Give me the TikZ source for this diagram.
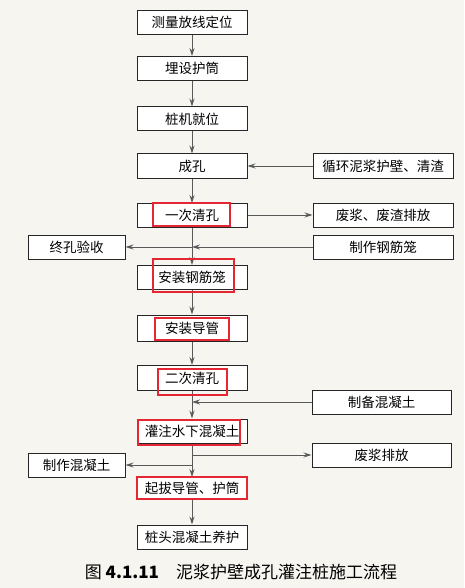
\documentclass[tikz,border=0pt]{standalone}
\usepackage{fontspec}
\setmainfont{Noto Sans CJK SC}
\usepackage{tikz}
\usetikzlibrary{arrows.meta}
\usetikzlibrary{positioning}
\definecolor{paper}{rgb}{0.97, 0.96, 0.94}
\definecolor{mred}{rgb}{0.90, 0.15, 0.20}
\definecolor{lgray}{rgb}{0.35, 0.35, 0.35}
\tikzset{stepbox/.style = {draw = black!85, line width = 1pt, fill = white, inner sep = 0,
    minimum height = 24, font = \fontsize{13.5}{15}\selectfont}}
\tikzset{mainbox/.style = {stepbox, minimum width = 110}}
\tikzset{sidebox/.style = {stepbox, minimum width = 140}}
\tikzset{leftbox/.style = {stepbox, minimum width = 97}}
\tikzset{flow/.style = {draw = lgray, line width = 0.8pt, -{Stealth[length = 8, width = 5]}}}
\tikzset{redbox/.style = {draw = mred, line width = 1.8pt}}

\begin{document}
\begin{tikzpicture}[x = 1pt, y = -1pt]
    \fill [paper] (0, 0) rectangle (464, 588);
    \useasboundingbox (0, 0) rectangle (464, 588);

    % main column
    \node [mainbox] (celiang) at (192, 22.5) {测量放线定位};
    \node [mainbox] (hutong) at (192, 68.5) {埋设护筒};
    \node [mainbox] (zhuangji) at (192, 119) {桩机就位};
    \node [mainbox] (chengkong) at (192, 166) {成孔};
    \node [mainbox] (qingkong1) at (192, 215.5) {一次清孔};
    \node [mainbox] (gangjin) at (192, 277.5) {安装钢筋笼};
    \node [mainbox, minimum height = 26] (daoguan) at (192, 328) {安装导管};
    \node [mainbox, minimum height = 25] (qingkong2) at (192, 378) {二次清孔};
    \node [mainbox] (guanzhu) at (192, 431) {灌注水下混凝土};
    \node [mainbox, minimum height = 22] (qiba) at (192, 488.5) {起拔导管、护筒};
    \node [mainbox] (yanghu) at (192, 537) {桩头混凝土养护};

    % side boxes
    \node [sidebox] (xunhuan) at (383, 166) {循环泥浆护壁、清渣};
    \node [sidebox] (feizha) at (383, 215) {废浆、废渣排放};
    \node [sidebox] (zhizuojin) at (383, 247) {制作钢筋笼};
    \node [leftbox] (yanshou) at (76.5, 247) {终孔验收};
    \node [sidebox, minimum width = 139] (zhibei) at (381.5, 402) {制备混凝土};
    \node [sidebox, minimum width = 139] (feijiang) at (381.5, 455) {废浆排放};
    \node [leftbox] (zhizuohun) at (76.5, 465) {制作混凝土};

    % joints on the main line
    \coordinate (jgang) at (qingkong1.south |- zhizuojin.west);
    \coordinate (jbei) at (qingkong2.south |- zhibei.west);
    \coordinate (jfei) at (guanzhu.south |- feijiang.west);
    \coordinate (jzhi) at (guanzhu.south |- zhizuohun.east);

    \draw [flow] (celiang) -- (hutong);
    \draw [flow] (hutong) -- (zhuangji);
    \draw [flow] (zhuangji) -- (chengkong);
    \draw [flow] (chengkong) -- (qingkong1);
    \draw [flow] (qingkong1) -- (gangjin);
    \draw [flow] (gangjin) -- (daoguan);
    \draw [flow] (daoguan) -- (qingkong2);
    \draw [flow] (qingkong2) -- (guanzhu);
    \draw [flow] (guanzhu) -- (qiba);
    \draw [flow] (qiba) -- (yanghu);

    \draw [flow] (xunhuan) -- (chengkong);
    \draw [flow] (qingkong1.east |- feizha.west) -- (feizha);
    \draw [flow] (zhizuojin) -- (jgang);
    \draw [flow] (jgang) -- (yanshou);
    \draw [flow] (zhibei) -- (jbei);
    \draw [flow] (jfei) -- (feijiang);
    \draw [flow] (jzhi) -- (zhizuohun);

    % marked steps
    \draw [redbox] (153, 203) rectangle (230, 226);
    \draw [redbox] (153, 259) rectangle (234, 292);
    \draw [redbox] (155, 318) rectangle (229, 340);
    \draw [redbox] (158, 369) rectangle (227, 395);
    \draw [redbox] (138, 420) rectangle (240, 445);
    \draw [redbox] (137, 477) rectangle (247, 499);

    \node [font = \fontsize{17}{19}\selectfont] (caption) at (241, 572)
      {图 \textbf{4.1.11}\quad 泥浆护壁成孔灌注桩施工流程};
  \end{tikzpicture}
\end{document}
